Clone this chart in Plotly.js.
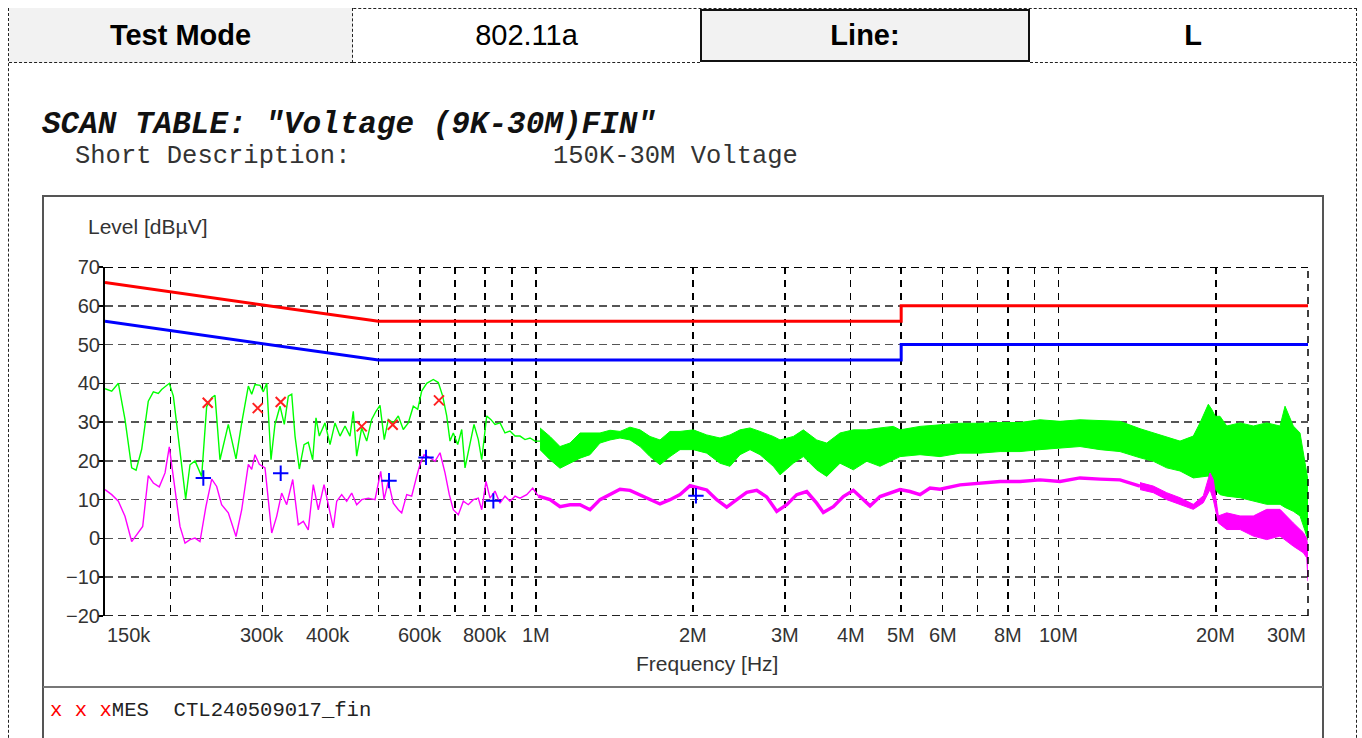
<!DOCTYPE html>
<html>
<head>
<meta charset="utf-8">
<script src="https://cdn.plot.ly/plotly-3.0.1.min.js"></script>
<style>
  html, body { margin:0; padding:0; background:#fff; width:1362px; height:738px; overflow:hidden; }
  .abs { position:absolute; }
  .cell { position:absolute; top:8px; height:55px; display:flex; align-items:center; justify-content:center;
          font-family:"Liberation Sans", Arial, sans-serif; font-size:29px; color:#000; box-sizing:border-box; }
  .mono { font-family:"Liberation Mono", "Courier New", monospace; white-space:pre; }
</style>
</head>
<body>
<!-- page dashed frame -->
<div class="abs" style="left:8px;top:8px;width:1349px;height:800px;border:1px dashed #222;box-sizing:border-box;"></div>
<!-- header table -->
<div class="cell" style="left:9px;width:344px;background:#f2f2f2;font-weight:bold;border-bottom:1px dashed #222;border-right:1px dashed #222;">Test Mode</div>
<div class="cell" style="left:353px;width:347px;border-bottom:1px dashed #222;">802.11a</div>
<div class="cell" style="left:700px;width:330px;background:#f2f2f2;font-weight:bold;border:2px solid #111;top:9px;height:53px;">Line:</div>
<div class="cell" style="left:1030px;width:326px;font-weight:bold;border-bottom:1px dashed #222;">L</div>

<!-- scan table title -->
<div class="abs mono" style="left:42px;top:112px;height:26px;font-size:31px;line-height:26px;font-weight:bold;font-style:italic;color:#111;">SCAN TABLE: "Voltage (9K-30M)FIN"</div>
<div class="abs mono" style="left:75px;top:147px;font-size:25.5px;line-height:19px;color:#333;">Short Description:</div>
<div class="abs mono" style="left:553px;top:147px;font-size:25.5px;line-height:19px;color:#333;">150K-30M Voltage</div>

<!-- chart box -->
<div class="abs" style="left:42px;top:195px;width:1282px;height:600px;border:2px solid #555;box-sizing:border-box;"></div>
<div class="abs" style="left:43px;top:686px;width:1280px;height:0;border-top:2px solid #777;"></div>
<div class="abs mono" style="left:50px;top:700px;font-size:20.6px;line-height:22px;color:#222;"><span style="color:#f00">x x x</span>MES  CTL240509017_fin</div>

<div id="chart" class="abs" style="left:0;top:0;width:1362px;height:738px;"></div>

<script>
// ---------- data (frequencies in kHz, levels in dBuV) ----------
const peakLowFreq = [150,154.5,159.1,163.8,168.7,172,176.3,181.5,185.6,189.7,192.5,199.1,202.7,208.7,214,218.1,223,229.6,234.7,240,243.5,248.9,258.2,267.1,273.9,282,286.2,290.4,296.9,301.2,305.8,311.6,317.1,324.2,330.4,336.3,341.4,346.4,353,360.4,367.2,374.4,379.9,385.5,395.3,404.1,413.1,422.3,431.7,441.3,447.7,454.5,464.6,475,485.5,494.8,503.6,513.2,522.4,534,545.9,558,570.4,583.2,594.6,605.1,618.6,636.9,651.1,663.8,675.6,685.5,695.5,709.1,721.8,732.3,746.3,761.9,776.5,788.2,805.8,820.1,835.8,854.4,873.4,892.8,912.8,933,953.8,975,996.8,1019];
const peakLowLevel = [38.6,38,40,30.7,18.2,17.6,23,35.4,37.8,37.4,38.4,40,36.7,22,10.2,19,20,16,34,36.3,36.9,20.3,29.4,20.5,29.8,39.3,37.2,39.7,39.5,37.8,40,20.3,29.4,34.1,29.4,36.7,37.2,26.4,17.9,24.2,24.8,20.3,31.1,26.4,29.8,24.2,29.8,26.4,29,26.4,32.8,21.2,28.5,25.1,30.7,32.8,34.3,25.5,30.7,29.8,31.6,28.1,29.8,34.1,33.3,38,40,41,40.2,36.7,31.6,25.1,27.2,24.2,28.1,18.2,23.8,29.4,25.5,20.3,31.6,30.7,29.4,29.8,27.2,27.7,26.4,26.4,25.5,25.9,25.1,25.1];

// peak envelope 1 MHz - 30 MHz (upper and lower edge of the dense trace)
const peakBandFreq = [1019,1064.9,1112.8,1162.8,1215.3,1269.9,1327.2,1386.9,1449.4,1514.6,1582.9,1654.1,1728.5,1806.4,1887.7,2001.6,2123.3,2251.4,2352.9,2458.7,2569.3,2685.2,2847.2,2932.5,3109.4,3249.3,3446.8,3602.2,3819.6,4050.2,4296.3,4555.2,4830.1,4974.7,5432.9,5933.5,6480,7077.6,7729,8439,9216.5,10064,10991,12003,13107,14315,15180,16103,17073,18103,18645,19340,19630,19945,20363,20973,22239,23579,25014,26523,27113,28121,28964,29609,30000];
const peakBandUpper = [28.5,26.3,23.7,24.6,27.2,27.2,27.2,27.9,27.6,28.7,28,26.3,25.4,27.6,27.6,28,26.7,25.9,26.7,28,28.5,27.6,26.3,25.4,26.3,28,25.4,24.6,27.2,28,28,28.5,28.9,28,28.9,29.3,29.7,29.7,29.9,29.9,30.6,30.2,30.6,30.4,30.2,28.3,27.2,26,25.1,26.4,29.8,34.6,33.3,31.5,31.5,29,29.8,29,29.8,29,34.1,29,27.2,19.5,15];
const peakBandLower = [22.9,20.3,18.1,19.4,20.7,21.6,24.6,25.4,25.9,25.4,23.7,21.1,19,21.1,22.9,22.9,22,19.4,18.6,21.6,22.9,21.6,18.6,16.4,19.4,21.1,17.7,16,19.4,17.7,19.9,18.6,20.3,21.1,21.6,21.1,22,22,22.4,22.4,22.9,23.3,23.7,22.9,22.4,20.8,19.9,18.2,17.4,15.6,15.8,16.1,15,12.6,11.3,10.9,10.5,9.6,8.8,8.8,8,7,5.8,2,-0.5];

const avgLowFreq = [150,154.5,159.1,163.8,168.7,172.5,177.1,181.5,185.6,190.5,195.4,199.1,203.3,208.7,213.4,218.1,223,227.9,234,240,245.3,250.7,258.2,267.1,273.9,282,286.2,290.4,296,303.5,312.6,319.5,326.6,333.9,342.9,351.4,359.3,367.2,375.4,383.8,393.6,401.1,410,416.2,425.4,434.9,444.6,454.5,464.6,478.3,492.7,505.2,512.6,522.4,534,545.9,554.1,566.5,579.1,591.9,600.6,611.3,627.7,641.7,656,670.6,683.4,695.5,711.1,726.9,743,759.6,776.5,788.2,803.3,817.6,835.8,854.4,873.4,892.8,912.8,933,961,986.7,1011.4];
const avgLowLevel = [12.6,11.3,9.6,5.7,-0.8,0.9,3.1,16.2,14.3,13.3,16.9,23.6,14.3,3.1,-1.2,-0.3,0.1,-0.8,8.3,15.3,13.4,8.7,6.6,0.5,7.4,19.1,17.8,21.6,19.1,18.2,1.4,5.7,11.7,8.7,15.2,3.5,4.4,2.2,13.9,7.4,13.9,8.3,2.7,9.6,11.3,9.6,11.7,8.7,10,10.4,10,17.3,10,14.7,9.1,7.4,6.6,11.3,10.9,16,19.1,21.6,20.8,19.9,22.1,16.9,11.3,7.4,6.1,9.6,8.7,10,10.4,7.4,14.7,10.4,12.2,9.1,10.9,9.6,10.9,10.4,11.3,13,10.9];

const avgMidFreq = [1011.4,1064.9,1112.8,1162.8,1215.3,1269.9,1327.2,1386.9,1449.4,1514.6,1582.9,1654.1,1728.5,1806.4,1887.7,1972.8,2031.9,2123.3,2219,2318.8,2423.3,2532.4,2646.5,2765.6,2890.3,3020.2,3156.4,3298.4,3446.8,3548.6,3708.6,3875.4,4050.2,4232.3,4359.1,4555.2,4760.6,4974.7,5198.6,5432.9,5677.5,5933.5,6480,7077.6,7729,8439,9216.5,10064,10991,12003,13107,14315];
const avgMidLevel = [10.9,10,8.2,8.7,8.7,7.4,10,11.3,12.7,12.4,11.3,10.1,8.9,10,11.3,13.6,13.2,12.5,10,8.1,10,11.9,12.4,10.7,7,8.7,11.3,12.1,9.1,6.7,8.2,10.8,12.4,10,8.4,10.8,11.7,12.6,12.1,11.3,13,12.7,13.8,14.2,14.7,14.7,15.1,14.7,15.6,15.3,15.1,13.5];

const avgBandFreq = [14315,15180,16103,17073,18103,18917,19484,19769,20211,20973,22239,23579,25014,26523,28121,29390,29831,30000];
const avgBandUpper = [14.4,13.5,11.8,10.5,8.8,11,16.9,15.2,5.8,6.6,5.8,5.8,7.5,7.5,4,1.5,0,-3];
const avgBandLower = [12.6,11.8,10,8.8,7.5,9.2,12.6,10,4,2.3,2.3,0.6,-0.3,0.6,-2,-3.7,-5,-11];

const qpLimitFreq = [150,500,5000,5000,30000];
const qpLimitLevel = [66,56,56,60,60];
const avLimitFreq = [150,500,5000,5000,30000];
const avLimitLevel = [56,46,46,50,50];

const qpMeasFreq = [235.8,293.9,325.2,464.6,532.6,653];
const qpMeasLevel = [35.0,33.6,35.2,28.9,29.3,35.6];
const avMeasFreq = [231.3,325.2,524,616.7,829.7,2025];
const avMeasLevel = [15.6,16.8,14.9,20.9,9.7,11.0];

const gridFreq = [200,300,400,500,600,700,800,900,1000,2000,3000,4000,5000,6000,7000,8000,9000,10000,20000,30000];
const labelFreq = [150,300,400,600,800,1000,2000,3000,4000,5000,6000,8000,10000,20000,30000];
const labelText = ["150k","300k","400k","600k","800k","1M","2M","3M","4M","5M","6M","8M","10M","20M","30M"];

// ---------- drawing ----------
const hz = a => a.map(v => v * 1000);
const GREEN = '#00ff00', MAG = '#ff00ff';

const traces = [
  {x: hz(peakLowFreq), y: peakLowLevel, mode:'lines', line:{color:GREEN, width:1.4}},
  {x: hz(peakBandFreq), y: peakBandUpper, mode:'lines', line:{color:GREEN, width:1}},
  {x: hz(peakBandFreq), y: peakBandLower, mode:'lines', line:{color:GREEN, width:1}, fill:'tonexty', fillcolor:GREEN},
  {x: hz(avgLowFreq), y: avgLowLevel, mode:'lines', line:{color:MAG, width:1.4}},
  {x: hz(avgMidFreq), y: avgMidLevel, mode:'lines', line:{color:MAG, width:3.4}},
  {x: hz(avgBandFreq), y: avgBandUpper, mode:'lines', line:{color:MAG, width:1}},
  {x: hz(avgBandFreq), y: avgBandLower, mode:'lines', line:{color:MAG, width:1}, fill:'tonexty', fillcolor:MAG},
  {x: hz(qpLimitFreq), y: qpLimitLevel, mode:'lines', line:{color:'#ff0000', width:3}},
  {x: hz(avLimitFreq), y: avLimitLevel, mode:'lines', line:{color:'#0000ff', width:3}},
  {x: hz(qpMeasFreq), y: qpMeasLevel, mode:'markers', marker:{symbol:'x-thin', size:10, line:{color:'#ff2020', width:2}}},
  {x: hz(avMeasFreq), y: avMeasLevel, mode:'markers', marker:{symbol:'cross-thin', size:11, line:{color:'#0000ff', width:2}}}
];

const FONT = 'Liberation Sans, Arial, sans-serif';
const annotations = labelFreq.map((f, i) => ({
  x: Math.log10(f * 1000), xref:'x', y:0, yref:'paper', yshift:-6, yanchor:'top',
  xanchor: i === 0 ? 'left' : (i === labelFreq.length - 1 ? 'right' : 'center'),
  text: labelText[i], showarrow:false, font:{family:FONT, size:20, color:'#333'}
}));
annotations.push({x:0.5, xref:'paper', y:0, yref:'paper', yshift:-47, yanchor:'middle', xanchor:'center',
  text:'Frequency [Hz]', showarrow:false, font:{family:FONT, size:21, color:'#333'}});
annotations.push({x:0, xref:'paper', xshift:-19, xanchor:'left', y:1, yref:'paper', yshift:41, yanchor:'middle',
  text:'Level [dBµV]', showarrow:false, font:{family:FONT, size:21, color:'#333'}});

const shapes = [
  {type:'line', xref:'paper', yref:'y', x0:0, x1:1, y0:70, y1:70, line:{color:'#000', width:2, dash:'8px,5px'}},
  {type:'line', xref:'paper', yref:'y', x0:0, x1:1, y0:-20, y1:-20, line:{color:'#222', width:2, dash:'8px,5px'}},
  {type:'line', xref:'paper', yref:'paper', x0:1, x1:1, y0:0, y1:1, line:{color:'#000', width:1.5, dash:'7px,6px'}}
];

const layout = {
  width:1362, height:738,
  margin:{l:105, r:54, t:267, b:122, pad:0},
  paper_bgcolor:'rgba(0,0,0,0)', plot_bgcolor:'rgba(0,0,0,0)',
  showlegend:false,
  xaxis:{type:'log', range:[Math.log10(150000), Math.log10(30000000)],
    tickmode:'array', tickvals: hz(gridFreq), ticktext: gridFreq.map(() => ''), showticklabels:false,
    showgrid:true, gridcolor:'#000', gridwidth:1.5, griddash:'7px,6px', zeroline:false, showline:false, ticks:''},
  yaxis:{range:[-20,70], tickmode:'linear', tick0:0, dtick:10,
    showgrid:true, gridcolor:'#555', gridwidth:1.5, griddash:'8px,5px', zeroline:false,
    showline:true, linecolor:'#000', linewidth:2, ticks:'outside', ticklen:5, tickcolor:'#000', tickwidth:1.5,
    ticklabelstandoff:-6,
    tickfont:{family:FONT, size:20, color:'#333'}},
  annotations: annotations,
  shapes: shapes
};

Plotly.newPlot('chart', traces, layout, {displayModeBar:false, staticPlot:true});
</script>
</body>
</html>
